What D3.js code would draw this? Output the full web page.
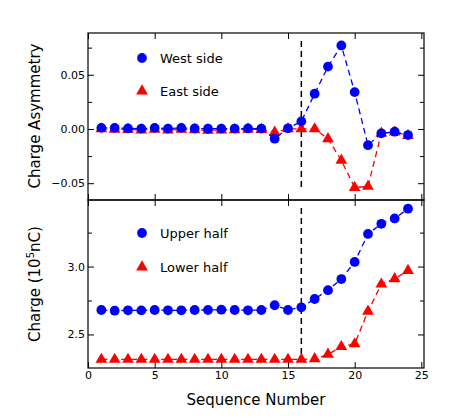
<!DOCTYPE html>
<html><head><meta charset="utf-8">
<script src="https://cdn.jsdelivr.net/npm/d3@7"></script>
<style>body{margin:0;background:#fff}text{font-family:"DejaVu Sans",sans-serif}</style>
</head><body><svg width="461" height="420"></svg>
<script>
var seq = d3.range(1, 25);
var westSide = [0.001,0.001,0.0005,0.0003,0.001,0.0003,0.001,0.0005,0.0002,0.0003,0.0003,0.0005,0.0003,-0.009,0.0006,0.007,0.0325,0.0575,0.077,0.034,-0.015,-0.004,-0.0025,-0.0056];
var eastSide = [0,-0.0003,-0.0005,-0.001,-0.0003,-0.001,-0.0003,-0.0008,-0.0012,-0.001,-0.0008,-0.0003,-0.0005,-0.003,0,0,0,-0.009,-0.029,-0.054,-0.053,-0.004,-0.003,-0.006];
var upperHalf = [2.68,2.675,2.678,2.677,2.68,2.678,2.678,2.68,2.68,2.682,2.68,2.678,2.68,2.715,2.68,2.70,2.761,2.826,2.908,3.034,3.24,3.315,3.354,3.426];
var lowerHalf = [2.316,2.316,2.316,2.316,2.316,2.316,2.316,2.316,2.316,2.316,2.316,2.316,2.316,2.316,2.316,2.316,2.32,2.353,2.41,2.43,2.67,2.87,2.91,2.97];
var xTicks = [0,5,10,15,20,25];
var topTicks = [-0.05,0,0.05];
var botTicks = [2.5,3.0];
var cutX = 16;

var svg = d3.select('svg');
var L = 88, R = 424, T = 33, M = 200, B = 368;
var x = d3.scaleLinear().domain([0, 25.2]).range([L, R]);
var yTop = d3.scaleLinear().domain([-0.0655, 0.0885]).range([M, T]);
var yBot = d3.scaleLinear().domain([2.253, 3.49]).range([B, M]);

function panel(y, ticks, minor, fmt, showX) {
	var g = svg.append('g');
	g.append('rect').attr('x', L).attr('y', y.range()[1]).attr('width', R - L).attr('height', y.range()[0] - y.range()[1])
		.attr('fill', 'none').attr('stroke', '#000').attr('stroke-width', 1.2);
	var ax = [
		[d3.axisBottom(x).tickValues(xTicks).tickSize(-6).tickFormat(showX ? d3.format('d') : ''), 'translate(0,' + y.range()[0] + ')'],
		[d3.axisTop(x).tickValues(xTicks).tickSize(-6).tickFormat(''), 'translate(0,' + y.range()[1] + ')'],
		[d3.axisLeft(y).tickValues(ticks).tickSize(-6).tickFormat(fmt), 'translate(' + L + ',0)'],
		[d3.axisRight(y).tickValues(ticks).tickSize(-6).tickFormat(''), 'translate(' + R + ',0)'],
		[d3.axisLeft(y).tickValues(minor).tickSize(-4).tickFormat(''), 'translate(' + L + ',0)'],
		[d3.axisRight(y).tickValues(minor).tickSize(-4).tickFormat(''), 'translate(' + R + ',0)']
	];
	ax.forEach(function(a) {
		var s = g.append('g').attr('transform', a[1]).call(a[0]);
		s.select('.domain').remove();
		s.selectAll('text').attr('font-size', 11).attr('font-family', 'DejaVu Sans').attr('fill', '#000');
		s.selectAll('line').attr('stroke', '#000');
	});
	g.append('line').attr('x1', x(cutX)).attr('x2', x(cutX))
		.attr('y1', y.range()[1] + 8).attr('y2', y.range()[0] - 10)
		.attr('stroke', '#000').attr('stroke-width', 1.5).attr('stroke-dasharray', '6,4');
	return g;
}

function series(y, vals, color, shape) {
	var line = d3.line().x(function(d, i) { return x(seq[i]); }).y(function(d) { return y(d); });
	svg.append('path').datum(vals).attr('d', line).attr('fill', 'none')
		.attr('stroke', color).attr('stroke-width', 1.3).attr('stroke-dasharray', '6,4');
	var sym = d3.symbol().type(shape).size(shape === d3.symbolCircle ? 75 : 60);
	svg.append('g').selectAll('path').data(vals).enter().append('path')
		.attr('d', sym).attr('fill', color)
		.attr('transform', function(d, i) { return 'translate(' + x(seq[i]) + ',' + y(d) + ')'; });
}

function legend(ly, label, color, shape) {
	var sym = d3.symbol().type(shape).size(shape === d3.symbolCircle ? 75 : 60);
	svg.append('path').attr('d', sym).attr('fill', color).attr('transform', 'translate(142,' + ly + ')');
	svg.append('text').attr('x', 160).attr('y', ly + 5).attr('font-size', 13).text(label);
}

panel(yTop, topTicks, [-0.025, 0.025, 0.075], function(d) { return d3.format('.2f')(d).replace('-', '\u2212'); }, false);
panel(yBot, botTicks, [2.75, 3.25], d3.format('.1f'), true);

series(yTop, eastSide, '#ff0000', d3.symbolTriangle);
series(yTop, westSide, '#0000ff', d3.symbolCircle);
series(yBot, lowerHalf, '#ff0000', d3.symbolTriangle);
series(yBot, upperHalf, '#0000ff', d3.symbolCircle);

legend(58, 'West side', '#0000ff', d3.symbolCircle);
legend(91, 'East side', '#ff0000', d3.symbolTriangle);
legend(233, 'Upper half', '#0000ff', d3.symbolCircle);
legend(267, 'Lower half', '#ff0000', d3.symbolTriangle);

svg.append('text').attr('transform', 'translate(40,116) rotate(-90)').attr('text-anchor', 'middle')
	.attr('font-size', 15).text('Charge Asymmetry');
var yl = svg.append('text').attr('transform', 'translate(40,284) rotate(-90)').attr('text-anchor', 'middle').attr('font-size', 15);
yl.append('tspan').text('Charge (10');
yl.append('tspan').attr('font-size', 10).attr('dy', -6).text('5');
yl.append('tspan').attr('dy', 6).text('nC)');
svg.append('text').attr('x', (L + R) / 2).attr('y', 405).attr('text-anchor', 'middle').attr('font-size', 15).text('Sequence Number');
</script></body></html>
